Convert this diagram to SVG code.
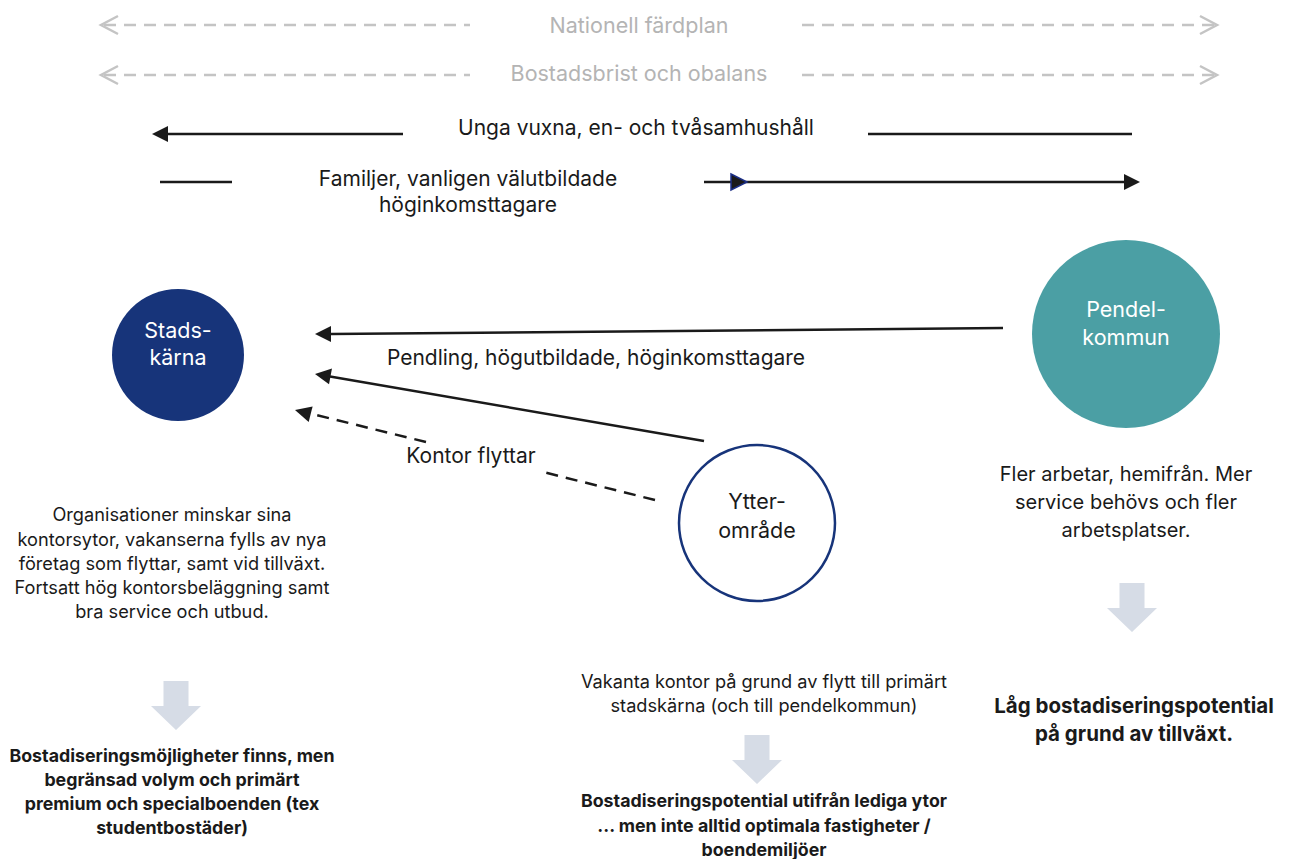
<svg xmlns="http://www.w3.org/2000/svg" width="1290" height="859" viewBox="0 0 1290 859">
<defs>
<style>
text{font-family:Inter,"Noto Sans","Liberation Sans",sans-serif;text-anchor:middle;fill:#1a1a1a}
.grey{fill:#b4b4b4;font-size:21.5px}
.lbl{font-size:21px}
.pt{font-size:20px}
.sm{font-size:18.2px}
.b{font-weight:bold;font-size:17.8px}
.bl{font-weight:bold;font-size:20.5px}
.wt{fill:#ffffff;font-size:21.5px}
.dash{stroke:#c4c4c4;stroke-width:2.5;stroke-dasharray:12 8;fill:none}
.chev{stroke:#c4c4c4;stroke-width:2.5;fill:none}
.ln{stroke:#1a1a1a;stroke-width:2.5;fill:none}
.dl{stroke:#1a1a1a;stroke-width:2.5;fill:none;stroke-dasharray:12 8}
.down{fill:#d6dce6}
</style>
</defs>

<g id="bands">
<text class="grey" x="639" y="33">Nationell färdplan</text>
<text class="grey" x="639" y="81">Bostadsbrist och obalans</text>
</g>

<g id="connectors">
<line class="dash" x1="104" y1="25" x2="470" y2="25"/>
<polyline class="chev" points="118,16 101,25 118,34"/>
<line class="dash" x1="802" y1="25" x2="1214" y2="25"/>
<polyline class="chev" points="1200,16 1217,25 1200,34"/>
<line class="dash" x1="104" y1="75" x2="470" y2="75"/>
<polyline class="chev" points="118,66 101,75 118,84"/>
<line class="dash" x1="802" y1="75" x2="1214" y2="75"/>
<polyline class="chev" points="1200,66 1217,75 1200,84"/>

<line class="ln" x1="403" y1="134" x2="168" y2="134"/>
<path d="M152,134 L168,126 L168,142 Z" fill="#1a1a1a"/>
<line class="ln" x1="868" y1="134" x2="1132" y2="134"/>

<line class="ln" x1="160" y1="182" x2="232" y2="182"/>
<line class="ln" x1="704" y1="182" x2="1124" y2="182"/>
<path d="M1140,182 L1124,174 L1124,190 Z" fill="#1a1a1a"/>
<path d="M731,174 L747,182 L731,190 Z" fill="#1a1a1a" stroke="#1c2f86" stroke-width="1.5"/>

<line class="ln" x1="1003" y1="328" x2="331" y2="334"/>
<path d="M315,334 L331,326 L331,342 Z" fill="#1a1a1a"/>
<line class="ln" x1="704" y1="441" x2="330" y2="376.5"/>
<path d="M315,374 L332,368.5 L329,384.3 Z" fill="#1a1a1a"/>

<line class="dl" x1="655" y1="500" x2="543" y2="472"/>
<line class="dl" x1="426" y1="442" x2="308" y2="413"/>
<path d="M295,410 L312.6,406.5 L308.7,422 Z" fill="#1a1a1a"/>
</g>

<g id="labels">
<text class="lbl" x="636" y="135">Unga vuxna, en- och tvåsamhushåll</text>
<text class="lbl" x="468" y="186">Familjer, vanligen välutbildade</text>
<text class="lbl" x="468" y="212">höginkomsttagare</text>
<text class="lbl" x="596" y="365">Pendling, högutbildade, höginkomsttagare</text>
<text class="lbl" x="471" y="463">Kontor flyttar</text>
</g>

<g id="stadskarna">
<circle cx="178" cy="355" r="66" fill="#17347a"/>
<text class="wt" x="178" y="338">Stads-</text>
<text class="wt" x="178" y="365">kärna</text>
</g>

<g id="pendelkommun">
<circle cx="1126" cy="334" r="94" fill="#4b9fa4"/>
<text class="wt" x="1126" y="317">Pendel-</text>
<text class="wt" x="1126" y="345">kommun</text>
</g>

<g id="ytteromrade">
<circle cx="757" cy="523" r="78" fill="#ffffff" stroke="#17347a" stroke-width="2.5"/>
<text class="wt" style="fill:#1a1a1a" x="757" y="509">Ytter-</text>
<text class="wt" style="fill:#1a1a1a" x="757" y="538">område</text>
</g>

<g id="stads-text">
<text class="sm" x="172" y="521">Organisationer minskar sina</text>
<text class="sm" x="172" y="546">kontorsytor, vakanserna fylls av nya</text>
<text class="sm" x="172" y="570">företag som flyttar, samt vid tillväxt.</text>
<text class="sm" x="172" y="594">Fortsatt hög kontorsbeläggning samt</text>
<text class="sm" x="172" y="618">bra service och utbud.</text>
<path class="down" d="M163.5,681 H188.5 V706 H201 L176,730 L151,706 H163.5 Z"/>
<text class="b" x="172" y="762">Bostadiseringsmöjligheter finns, men</text>
<text class="b" x="172" y="786">begränsad volym och primärt</text>
<text class="b" x="172" y="810">premium och specialboenden (tex</text>
<text class="b" x="172" y="834">studentbostäder)</text>
</g>

<g id="ytter-text">
<text class="sm" x="764" y="688">Vakanta kontor på grund av flytt till primärt</text>
<text class="sm" x="764" y="712">stadskärna (och till pendelkommun)</text>
<path class="down" d="M744.5,735 H769.5 V760 H782 L757,784 L732,760 H744.5 Z"/>
<text class="b" x="764" y="807">Bostadiseringspotential utifrån lediga ytor</text>
<text class="b" x="764" y="832">... men inte alltid optimala fastigheter /</text>
<text class="b" x="764" y="856">boendemiljöer</text>
</g>

<g id="pendel-text">
<text class="pt" x="1126" y="481">Fler arbetar, hemifrån. Mer</text>
<text class="pt" x="1126" y="509">service behövs och fler</text>
<text class="pt" x="1126" y="537">arbetsplatser.</text>
<path class="down" d="M1119.5,583 H1144.5 V608 H1157 L1132,632 L1107,608 H1119.5 Z"/>
<text class="bl" x="1134" y="713">Låg bostadiseringspotential</text>
<text class="bl" x="1134" y="741">på grund av tillväxt.</text>
</g>
</svg>
